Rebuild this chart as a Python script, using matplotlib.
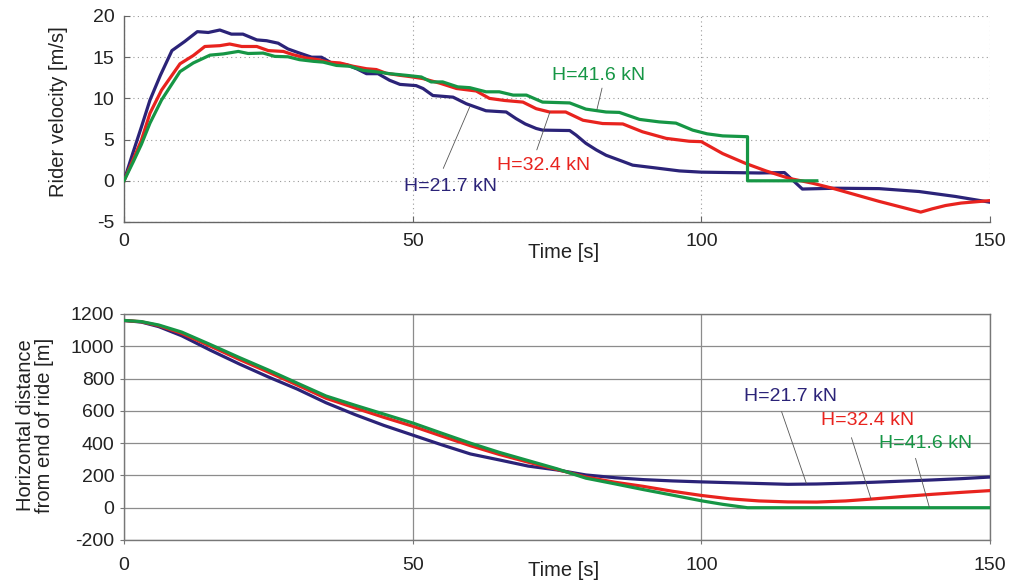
import matplotlib
matplotlib.use("Agg")
import matplotlib.pyplot as plt

plt.rcParams['font.family'] = ['Liberation Sans', 'DejaVu Sans']
plt.rcParams['axes.unicode_minus'] = False

# ---------------- data ----------------
labels = ["H=21.7 kN", "H=32.4 kN", "H=41.6 kN"]
colors = ["#2B2378", "#E8231E", "#169645"]

# Rider velocity [m/s] vs time [s]
t_v_217 = [0, 1.5, 3, 4.5, 6.3, 8.3, 10.5, 12.7, 14.6, 16.6, 18.6, 20.6, 23.0, 24.7, 26.7,
           28.4, 30.4, 32.5, 34.2, 36.2, 38.5, 40.3, 42.0, 44.0, 46.0, 47.8, 50.6, 51.8,
           53.5, 57.0, 59.3, 62.7, 66.2, 67.9, 69.5, 71.4, 72.5, 77.2, 78.3, 80.0, 81.8,
           83.5, 86.4, 88.1, 92.2, 96.2, 100, 104.8, 110, 114.4, 117.5, 123.3, 130.8,
           137.7, 144.0, 150]
v_217 = [0, 3.3, 6.5, 9.8, 12.8, 15.8, 16.9, 18.1, 18.0, 18.3, 17.8, 17.8, 17.1, 17.0, 16.7,
         16.0, 15.5, 15.0, 15.0, 14.2, 14.1, 13.6, 13.0, 13.0, 12.2, 11.7, 11.55, 11.2,
         10.35, 10.15, 9.35, 8.5, 8.35, 7.55, 6.9, 6.35, 6.15, 6.1, 5.55, 4.55, 3.75,
         3.1, 2.35, 1.9, 1.55, 1.2, 1.05, 1.0, 0.95, 1.0, -1.0, -0.9, -0.95,
         -1.3, -1.9, -2.6]

t_v_324 = [0, 1.6, 3, 4.5, 6.5, 9.7, 12.0, 14.0, 16.6, 18.3, 20.4, 23.0, 25.0, 27.6, 29.3,
           31.6, 33.6, 35.4, 37.4, 39.7, 42.0, 43.7, 45.4, 47.8, 49.5, 51.8, 54.7, 57.6,
           61.0, 63.3, 65.9, 69.1, 71.4, 73.7, 76.5, 79.5, 82.9, 86.4, 89.8, 93.9, 97.9,
           100, 103.7, 107.7, 111.2, 115.2, 119.3, 122.7, 130.8, 138.0, 140.0, 142.3,
           145.0, 150]
v_324 = [0, 2.6, 4.9, 8.2, 11.0, 14.2, 15.2, 16.3, 16.4, 16.6, 16.3, 16.3, 15.8, 15.7, 15.3,
         14.9, 14.7, 14.4, 14.3, 13.9, 13.6, 13.5, 13.05, 12.8, 12.65, 12.4, 11.85, 11.2,
         10.9, 10.0, 9.75, 9.55, 8.75, 8.35, 8.35, 7.35, 6.95, 6.9, 5.95, 5.15, 4.8,
         4.75, 3.3, 2.1, 1.2, 0.3, -0.3, -0.9, -2.5, -3.8, -3.4, -3.0,
         -2.7, -2.4]

t_v_416 = [0, 1.6, 3, 4.5, 6.5, 9.7, 12.0, 14.9, 17.2, 19.8, 21.5, 24.1, 26.1, 28.4, 30.4,
           32.8, 34.5, 36.8, 39.1, 41.4, 44.0, 46.0, 48.9, 51.5, 53.2, 55.2, 57.8, 59.9,
           62.7, 65.0, 67.4, 69.7, 72.5, 77.2, 80.0, 83.5, 85.8, 89.3, 92.7, 95.6, 98.5,
           101.0, 103.7, 108.0, 108.0, 120.0]
v_416 = [0, 2.3, 4.4, 7.0, 9.8, 13.25, 14.3, 15.25, 15.4, 15.7, 15.45, 15.5, 15.1, 15.05, 14.7,
         14.5, 14.4, 14.0, 13.9, 13.4, 13.2, 13.0, 12.8, 12.6, 12.0, 12.0, 11.4, 11.3,
         10.8, 10.8, 10.4, 10.4, 9.55, 9.45, 8.7, 8.35, 8.3, 7.45, 7.15, 7.0, 6.15,
         5.7, 5.45, 5.35, 0.0, 0.0]

# Horizontal distance from end of ride [m] vs time [s]
t_d = [0, 3, 6, 10, 15, 20, 25, 30, 35, 40, 45, 50, 55, 60, 65, 70, 75, 80, 85, 90,
       95, 100, 105, 110, 115, 120, 125, 130, 135, 140, 145, 150]
d_217 = [1160, 1150, 1122, 1065, 975, 890, 810, 735, 650, 577, 510, 450, 390, 333, 296, 258,
         234, 203, 186, 174, 166, 160, 155, 150, 145, 147, 152, 158, 165, 172, 180, 190]
d_324 = [1160, 1152, 1128, 1080, 1000, 918, 840, 760, 678, 618, 560, 505, 444, 384, 330, 282,
         237, 190, 158, 132, 102, 76, 55, 42, 36, 35, 42, 55, 70, 83, 95, 106]
t_d_416 = [0, 3, 6, 10, 15, 20, 25, 30, 35, 40, 45, 50, 55, 60, 65, 70, 75, 80, 85, 90,
           95, 100, 103.7, 108, 150]
d_416 = [1160, 1153, 1132, 1088, 1010, 930, 853, 772, 692, 635, 580, 525, 462, 400, 343, 292,
         241, 183, 148, 112, 78, 43, 21, 0, 0]

x_ticks = [0, 50, 100, 150]
v_ticks = [-5, 0, 5, 10, 15, 20]
d_ticks = [-200, 0, 200, 400, 600, 800, 1000, 1200]

# annotation placement (text position, leader start, leader end) in data units
ann_top = [((56.6, -0.7), (55.3, 1.5), (59.9, 9.0)),
           ((72.7, 1.9), (71.5, 3.75), (73.8, 8.4)),
           ((82.2, 12.8), (82.8, 11.25), (81.9, 8.6))]
ann_bot = [((115.5, 692), (113.9, 595), (118.2, 150)),
           ((128.8, 539), (126.0, 434), (129.4, 53)),
           ((138.8, 395), (137.1, 306), (139.5, 2))]

# ---------------- figure ----------------
W, H = 1016, 585
fig = plt.figure(figsize=(W / 100, H / 100), dpi=100)
L, R = 124, 990
ax1 = fig.add_axes([L / W, 1 - 222 / H, (R - L) / W, (222 - 16) / H])
ax2 = fig.add_axes([L / W, 1 - 540 / H, (R - L) / W, (540 - 314) / H])

tick_fs = 14
label_fs = 14.5
ann_fs = 14
lw = 2.3

# --- top panel ---
for tt, vv, c in zip([t_v_217, t_v_324, t_v_416], [v_217, v_324, v_416], colors):
    ax1.plot(tt, vv, color=c, lw=lw, solid_joinstyle='round', zorder=3)
ax1.set_xlim(0, 150)
ax1.set_ylim(-5, 20)
ax1.set_xticks(x_ticks)
ax1.set_yticks(v_ticks)
ax1.grid(True, color='#9a9a9a', lw=0.8, linestyle=(0, (1, 3)))
ax1.spines['top'].set_visible(False)
ax1.spines['right'].set_visible(False)
for s in ['left', 'bottom']:
    ax1.spines[s].set_color('#666666')
    ax1.spines[s].set_linewidth(1.0)
ax1.tick_params(direction='in', length=4, width=0.8, color='#666666',
                labelsize=tick_fs, labelcolor='#222222')
ax1.tick_params(axis='x', pad=8)
ax1.tick_params(axis='y', pad=7)
ax1.set_ylabel("Rider velocity [m/s]", fontsize=label_fs, color='#222222')
ax1.yaxis.label.set_va('center')
ax1.yaxis.set_label_coords((59 - L) / (R - L), (222 - 112) / 206)
ax1.set_xlabel("Time [s]", fontsize=label_fs, color='#222222')
ax1.xaxis.label.set_va('center')
ax1.xaxis.set_label_coords((564 - L) / (R - L), (222 - 253) / 206)

for (txy, p0, p1), lab, c in zip(ann_top, labels, colors):
    ax1.annotate("", xy=p1, xytext=p0,
                 arrowprops=dict(arrowstyle='-', color='#555555', lw=0.6,
                                 shrinkA=0, shrinkB=0), zorder=4)
    ax1.text(txy[0], txy[1], lab, color=c, fontsize=ann_fs, ha='center', va='center', zorder=5)

# --- bottom panel ---
for tt, dd, c in zip([t_d, t_d, t_d_416], [d_217, d_324, d_416], colors):
    ax2.plot(tt, dd, color=c, lw=lw, solid_joinstyle='round', zorder=3)
ax2.set_xlim(0, 150)
ax2.set_ylim(-200, 1200)
ax2.set_xticks(x_ticks)
ax2.set_yticks(d_ticks)
ax2.grid(True, color='#8c8c8c', lw=0.9, linestyle='-')
for s in ax2.spines.values():
    s.set_color('#777777')
    s.set_linewidth(1.0)
ax2.tick_params(direction='out', length=3, width=0.8, color='#777777',
                labelsize=tick_fs, labelcolor='#222222')
ax2.tick_params(axis='x', pad=9)
ax2.tick_params(axis='y', pad=4)
ax2.set_ylabel("Horizontal distance\nfrom end of ride [m]", fontsize=label_fs,
               color='#222222', linespacing=1.0)
ax2.yaxis.label.set_va('center')
ax2.yaxis.set_label_coords((35 - L) / (R - L), (540 - 425) / 226)
ax2.set_xlabel("Time [s]", fontsize=label_fs, color='#222222')
ax2.xaxis.label.set_va('center')
ax2.xaxis.set_label_coords((564 - L) / (R - L), (540 - 571) / 226)

for (txy, p0, p1), lab, c in zip(ann_bot, labels, colors):
    ax2.annotate("", xy=p1, xytext=p0,
                 arrowprops=dict(arrowstyle='-', color='#555555', lw=0.6,
                                 shrinkA=0, shrinkB=0), zorder=4)
    ax2.text(txy[0], txy[1], lab, color=c, fontsize=ann_fs, ha='center', va='center', zorder=5)

fig.savefig("out.png", dpi=100)
